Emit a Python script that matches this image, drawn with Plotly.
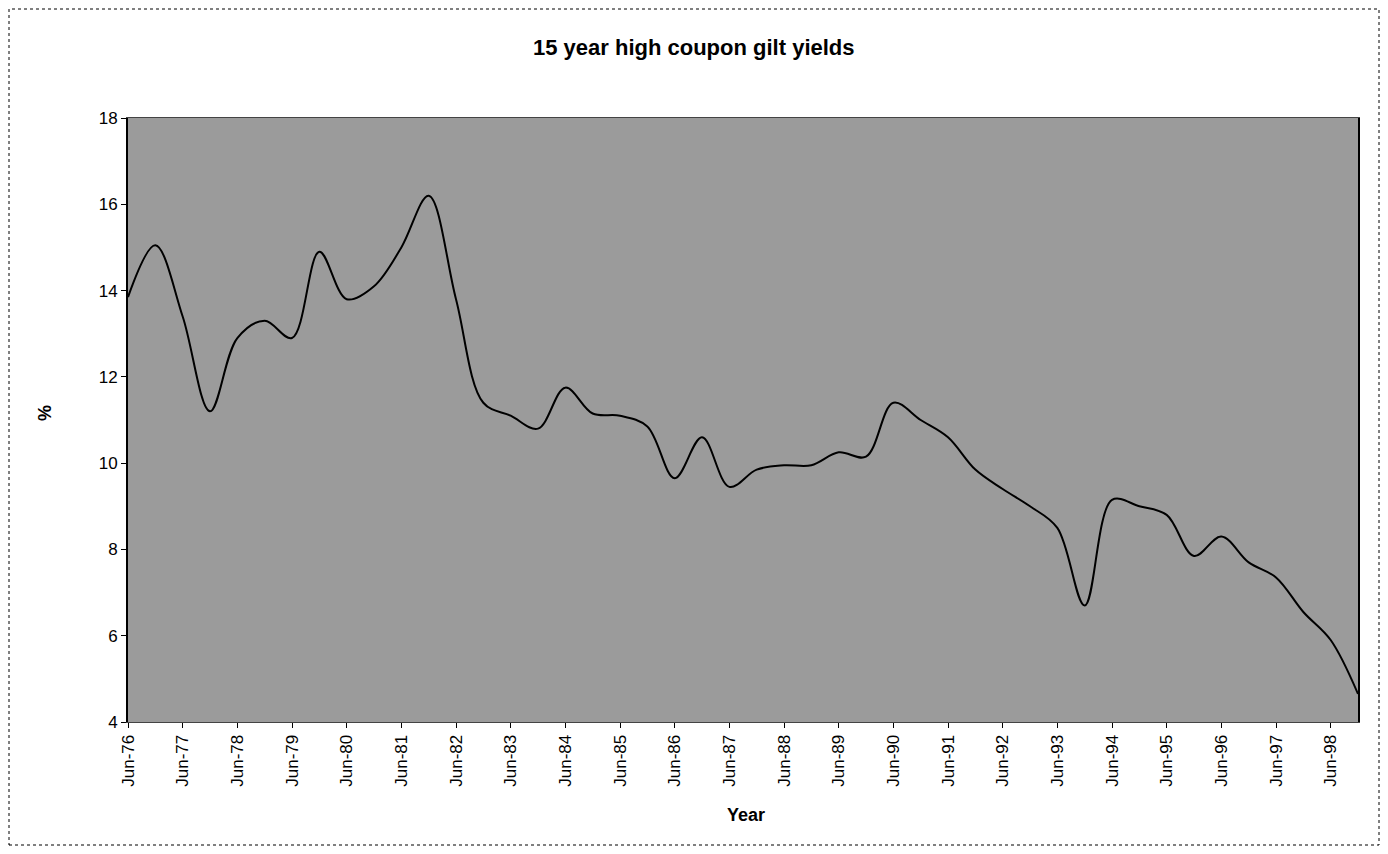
import plotly.graph_objects as go

# semiannual observations, Jun-76 .. Dec-98
periods = []
for yr in range(76, 99):
    periods.append(f"Jun-{yr}")
    periods.append(f"Dec-{yr}")

yields = [13.85, 15.05, 13.4, 11.2, 12.9, 13.3, 12.9, 14.9, 13.8, 14.1,
          15.0, 16.2, 13.8, 11.4, 11.1, 10.8, 11.75, 11.15, 11.1, 10.85,
          9.65, 10.6, 9.45, 9.85, 9.95, 9.95, 10.25, 10.15, 11.4, 11.0,
          10.6, 9.85, 9.4, 9.0, 8.5, 6.7, 9.15, 9.0, 8.8, 7.85,
          8.3, 7.7, 7.35, 6.55, 5.9, 4.65]

tick_labels = [p for p in periods if p.startswith("Jun")]
y_ticks = [4, 6, 8, 10, 12, 14, 16, 18]

# figure sits 8px inside the page (body margin)
W, H = 1372, 838
L, R, T, B = 120, 1350, 110, 714
PW, PH = R - L, B - T


def px(x):
    return (x - L) / PW


def py(y):
    return (B - y) / PH


fig = go.Figure()
fig.add_trace(go.Scatter(
    x=periods, y=yields, mode="lines",
    line=dict(color="black", width=2, shape="spline", smoothing=1.0),
    showlegend=False, hoverinfo="x+y",
))

font = "Liberation Sans, Arial, sans-serif"
fig.update_layout(
    width=W, height=H,
    margin=dict(l=L, r=W - R, t=T, b=H - B, autoexpand=False),
    paper_bgcolor="white",
    plot_bgcolor="#9b9b9b",
    font=dict(family=font, color="black", size=17),
    xaxis=dict(
        type="category", range=[0, len(periods) - 1],
        tickmode="array", tickvals=tick_labels, ticktext=tick_labels,
        tickangle=-90, ticks="outside", ticklen=5, tickcolor="black",
        showgrid=False, showline=True, linecolor="#444444", linewidth=1,
        mirror=True, zeroline=False, tickfont=dict(size=17),
    ),
    yaxis=dict(
        range=[4, 18], tickvals=y_ticks, ticks="outside", ticklen=5,
        tickcolor="black", showgrid=False, showline=True, linecolor="black",
        linewidth=2, mirror=True, zeroline=False, tickfont=dict(size=17),
    ),
    annotations=[
        dict(text="<b>15 year high coupon gilt yields</b>", xref="paper", yref="paper",
             x=px(686), y=py(40), showarrow=False,
             font=dict(size=22), xanchor="center", yanchor="middle"),
        dict(text="<b>%</b>", xref="paper", yref="paper",
             x=px(37), y=py(405), showarrow=False, textangle=-90,
             font=dict(size=18), xanchor="center", yanchor="middle"),
        dict(text="<b>Year</b>", xref="paper", yref="paper",
             x=px(738), y=py(807), showarrow=False,
             font=dict(size=18), xanchor="center", yanchor="middle"),
    ],
    shapes=[
        dict(type="rect", xref="paper", yref="paper",
             x0=px(1), x1=px(W - 1), y0=py(H - 1), y1=py(1),
             line=dict(color="black", width=1, dash="dot"), layer="below"),
    ],
)

fig.write_html("out.html")
